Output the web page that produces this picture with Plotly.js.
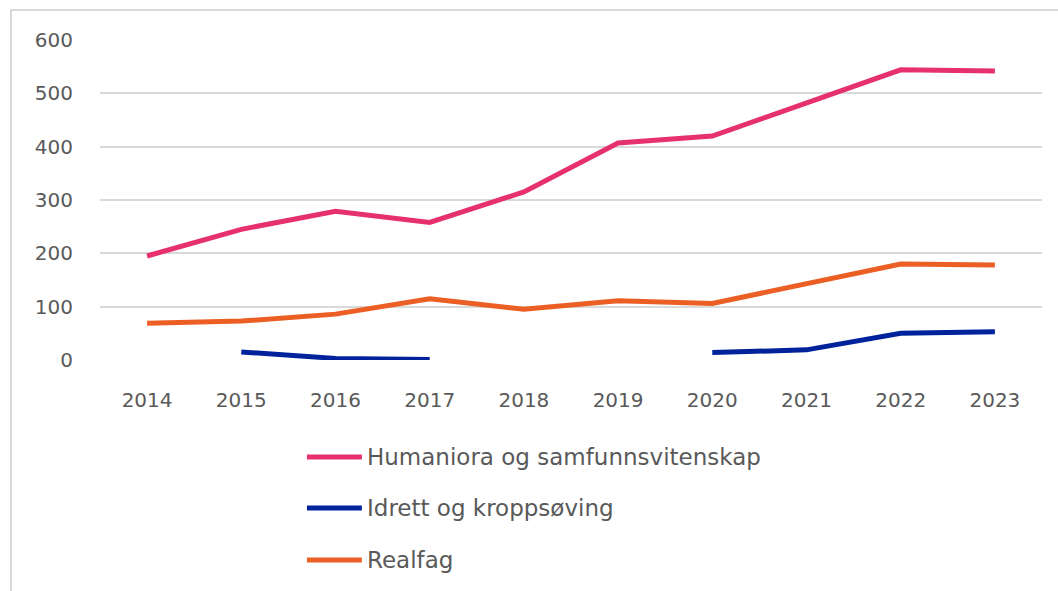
<!DOCTYPE html>
<html>
<head>
<meta charset="utf-8">
<script src="https://cdn.plot.ly/plotly-3.0.1.min.js"></script>
<style>
  html, body { margin:0; padding:0; width:1058px; height:591px; overflow:hidden; background:#fff; }
  #frame { position:absolute; left:10px; top:9px; width:1200px; height:800px;
           border-left:2px solid #d9d9d9; border-top:2px solid #d9d9d9; }
  #chart { position:absolute; left:0; top:0; width:1058px; height:591px; }
</style>
</head>
<body>
<div id="frame"></div>
<div id="chart"></div>
<script>
const years = ['2014','2015','2016','2017','2018','2019','2020','2021','2022','2023'];
const seriesNames = ['Humaniora og samfunnsvitenskap', 'Idrett og kroppsøving', 'Realfag'];
const humaniora = [195, 245, 279, 258, 315, 407, 420, 482, 544, 542];
const idrett    = [null, 15, 3, 1, null, null, 14, 19, 50, 53];
const realfag   = [69, 73, 86, 115, 95, 111, 106, 142, 180, 178];
const yTicks = [0, 100, 200, 300, 400, 500, 600];

const colors = ['#E6306F', '#00239C', '#EC5F24'];
const values = [humaniora, idrett, realfag];
const FONT = '"DejaVu Sans", "Open Sans", sans-serif';

const traces = values.map((v, i) => ({
  x: years, y: v, name: seriesNames[i], type: 'scatter', mode: 'lines',
  line: { color: colors[i], width: 5 }, connectgaps: false, showlegend: false,
  hoverinfo: 'skip'
}));

// custom legend (positions in paper coordinates)
const legY = [-0.303, -0.4625, -0.625];
const shapes = [], annotations = [];
seriesNames.forEach((n, i) => {
  shapes.push({ type:'line', xref:'paper', yref:'paper', x0:0.2197, x1:0.278, y0:legY[i], y1:legY[i],
    line:{ color: colors[i], width:5 } });
  annotations.push({ xref:'paper', yref:'paper', x:0.2814, y:legY[i], xanchor:'left', yanchor:'middle',
    text:n, showarrow:false, font:{ family:FONT, size:23, color:'#595959' } });
});

const layout = {
  width: 1058, height: 591,
  margin: { l: 100, r: 16, t: 40, b: 231 },
  paper_bgcolor: 'rgba(0,0,0,0)', plot_bgcolor: 'rgba(0,0,0,0)',
  font: { family: FONT, size: 20, color: '#595959' },
  xaxis: { type:'category', range:[-0.5, 9.5], showgrid:false, zeroline:false, showline:false,
    ticks:'outside', ticklen:22, tickcolor:'rgba(0,0,0,0)',
    tickfont:{ family:FONT, size:20, color:'#595959' } },
  yaxis: { range:[0, 600], tickvals: yTicks, ticktext: yTicks.map(String),
    showgrid:true, gridcolor:'#d9d9d9', gridwidth:2, zeroline:false, showline:false,
    ticks:'outside', ticklen:22, tickcolor:'rgba(0,0,0,0)',
    tickfont:{ family:FONT, size:20, color:'#595959' } },
  shapes: shapes, annotations: annotations
};

Plotly.newPlot('chart', traces, layout, { staticPlot:true, displayModeBar:false });
</script>
</body>
</html>
